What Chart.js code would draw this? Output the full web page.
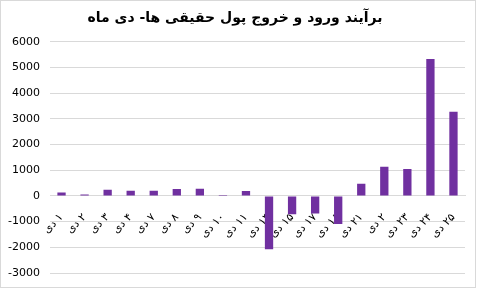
<!DOCTYPE html>
<html>
<head>
<meta charset="utf-8">
<script src="https://cdn.jsdelivr.net/npm/chart.js@4"></script>
<style>
  html, body { margin: 0; padding: 0; background: #fff; }
  #wrap { width: 480px; height: 293px; }
</style>
</head>
<body>
<div id="wrap"><canvas id="miGrafico" width="480" height="293"></canvas></div>
<script>
    // datos
    const dias = ['۱ دی', '۲ دی', '۳ دی', '۴ دی', '۷ دی', '۸ دی', '۹ دی', '۱۰ دی', '۱۱ دی',
                  '۱۴ دی', '۱۵ دی', '۱۷ دی', '۱۸ دی', '۲۱ دی', '۲ دی', '۲۳ دی', '۲۴ دی', '۲۵ دی'];
    const valores = [130, 60, 245, 205, 205, 270, 280, 40, 190,
                     -2080, -710, -680, -1090, 470, 1140, 1050, 5330, 3280];
    const ticksY = [-3000, -2000, -1000, 0, 1000, 2000, 3000, 4000, 5000, 6000];
    const titulo = 'برآیند ورود و خروج پول حقیقی ها- دی ماه';

    const fondo = {
      id: 'fondo',
      beforeDraw(chart) {
        const c = chart.ctx;
        c.save();
        c.fillStyle = '#fff';
        c.fillRect(0, 0, chart.width, chart.height);
        c.strokeStyle = '#d9d9d9';
        c.lineWidth = 1;
        c.strokeRect(0.5, 0.5, 475, 287);
        c.restore();
      }
    };

    const ctx = document.getElementById('miGrafico').getContext('2d');
    const miGrafico = new Chart(ctx, {
      type: 'bar',
      data: {
        labels: dias,
        datasets: [{
          label: titulo,
          data: valores,
          backgroundColor: '#7030a0',
          barPercentage: 0.36,
          categoryPercentage: 1
        }]
      },
      options: {
        responsive: false,
        animation: false,
        layout: { padding: { left: 5, right: 15, top: 0, bottom: 20 } },
        scales: {
          x: {
            position: { y: 0 },
            grid: { display: false },
            border: { color: '#d9d9d9' },
            ticks: {
              minRotation: 45,
              maxRotation: 45,
              autoSkip: false,
              padding: 7,
              color: '#000',
              font: { family: 'DejaVu Sans', size: 11 },
              // RLM para que el numero quede a la derecha (texto rtl)
              callback: (v, i) => '\u200F' + dias[i]
            },
            afterFit: s => { s.height = 0; }
          },
          y: {
            min: -3000,
            max: 6000,
            afterBuildTicks: s => { s.ticks = ticksY.map(v => ({ value: v })); },
            grid: { color: '#d9d9d9', drawTicks: false },
            border: { display: false },
            ticks: {
              padding: 10,
              color: '#000',
              font: { family: 'DejaVu Sans', size: 11 },
              callback: v => String(v)
            },
            afterFit: s => { s.width = 45; }
          }
        },
        plugins: {
          legend: { display: false },
          tooltip: { enabled: false },
          title: {
            display: true,
            text: titulo,
            color: '#000',
            font: { family: 'DejaVu Sans', size: 14, weight: 'bold' },
            padding: { top: 10, bottom: 15 }
          }
        }
      },
      plugins: [fondo]
    });
</script>
</body>
</html>
